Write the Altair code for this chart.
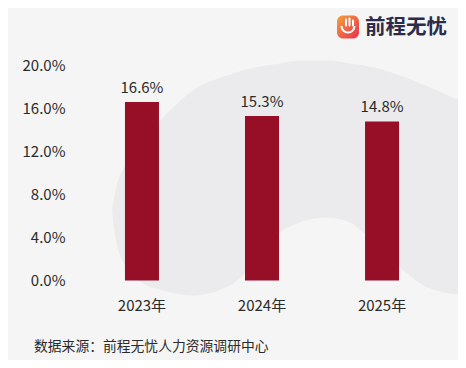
import altair as alt
import pandas as pd

years = ["2023年", "2024年", "2025年"]
values = [16.6, 15.3, 14.8]
labels = ["16.6%", "15.3%", "14.8%"]
source_text = "数据来源:前程无忧人力资源调研中心".replace(":", "：")
brand = "前程无忧"
ticks = [0, 4, 8, 12, 16, 20]

# decorative backdrop outline (picture coordinates)
blob_x = [112, 116, 125, 140, 160, 193, 230, 255, 280, 300, 327, 350, 370, 400, 430, 466]
blob_top = [210, 188, 165, 142, 120, 90, 74, 67, 63, 60, 60, 63, 66, 75, 87, 103]
blob_bottom = [210, 240, 265, 281, 289, 295, 285, 262, 232, 222, 217, 222, 238, 267, 288, 295]

FONT = "Noto Sans CJK SC"
BG = "#f5f5f5"
TXT = "#2a2a2a"
df = pd.DataFrame({"year": years, "value": values, "label": labels})
blob = pd.DataFrame({"x": blob_x, "t": blob_top, "b": blob_bottom})
one = pd.DataFrame({"a": [1]})

x = alt.X("year:N", sort=years, title=None,
          scale=alt.Scale(paddingInner=0.717, paddingOuter=0.358),
          axis=alt.Axis(domain=False, ticks=False, labelAngle=0, labelFontSize=15,
                        labelColor=TXT, labelFont=FONT, labelPadding=18))
y = alt.Y("value:Q", title=None, scale=alt.Scale(domain=[0, 20]),
          axis=alt.Axis(values=ticks, domain=False, ticks=False, grid=False,
                        labelExpr="format(datum.value,'.1f')+'%'", labelFontSize=15,
                        labelColor=TXT, labelFont=FONT, labelPadding=17))

back = alt.Chart(blob).mark_area(color="#ebebed", interpolate="monotone").encode(
    x=alt.X("x:Q", scale=alt.Scale(domain=[82, 442]), axis=None),
    y=alt.Y("t:Q", scale=alt.Scale(domain=[280, 65]), axis=None),
    y2="b:Q")
bars = alt.Chart(df).mark_bar(color="#960f27", width=34).encode(x=x, y=y)
text = alt.Chart(df).mark_text(dy=-14, fontSize=15, font=FONT, color=TXT).encode(
    x=alt.X("year:N", sort=years), y="value:Q", text="label:N")
main = alt.layer(bars, text)
src = alt.Chart(pd.DataFrame({"t": [source_text]})).mark_text(
    align="left", fontSize=13.8, font=FONT, color=TXT).encode(
    x=alt.value(-48), y=alt.value(281), text="t:N")
logo_bg = alt.Chart(one).mark_rect(
    cornerRadius=6,
    color=alt.LinearGradient(gradient="linear", x1=0, y1=0, x2=1, y2=1,
                       stops=[alt.GradientStop(color="#f4a13c", offset=0),
                              alt.GradientStop(color="#e8304f", offset=1)])).encode(
    x=alt.value(255), x2=alt.value(277), y=alt.value(-50), y2=alt.value(-27))
logo_arc = alt.Chart(one).mark_arc(
    color="white", radius=7.5, radius2=5.5, theta=1.57, theta2=4.71).encode(
    x=alt.value(266), y=alt.value(-39.5))
logo_fingers = [
    alt.Chart(one).mark_rule(color="white", strokeWidth=2, strokeCap="round").encode(
        x=alt.value(fx), y=alt.value(ft), y2=alt.value(-40))
    for fx, ft in [(264, -46), (267.5, -47), (271, -45)]
]
logo = alt.Chart(pd.DataFrame({"t": [brand]})).mark_text(
    align="left", fontSize=20.5, fontWeight="bold", font=FONT, color="#2b2b4a").encode(
    x=alt.value(283), y=alt.value(-38), text="t:N")

chart = alt.layer(back, main, logo_bg, logo_arc, *logo_fingers, logo, src).resolve_scale(
    x="independent", y="independent").properties(
    width=360, height=215, background=BG,
    autosize=alt.AutoSizeParams(type="none"),
    padding={"left": 74, "top": 57.5, "right": 16, "bottom": 79.5},
).configure_view(stroke=None)
chart.save("out.html", embed_options={"renderer": "svg", "actions": False})
